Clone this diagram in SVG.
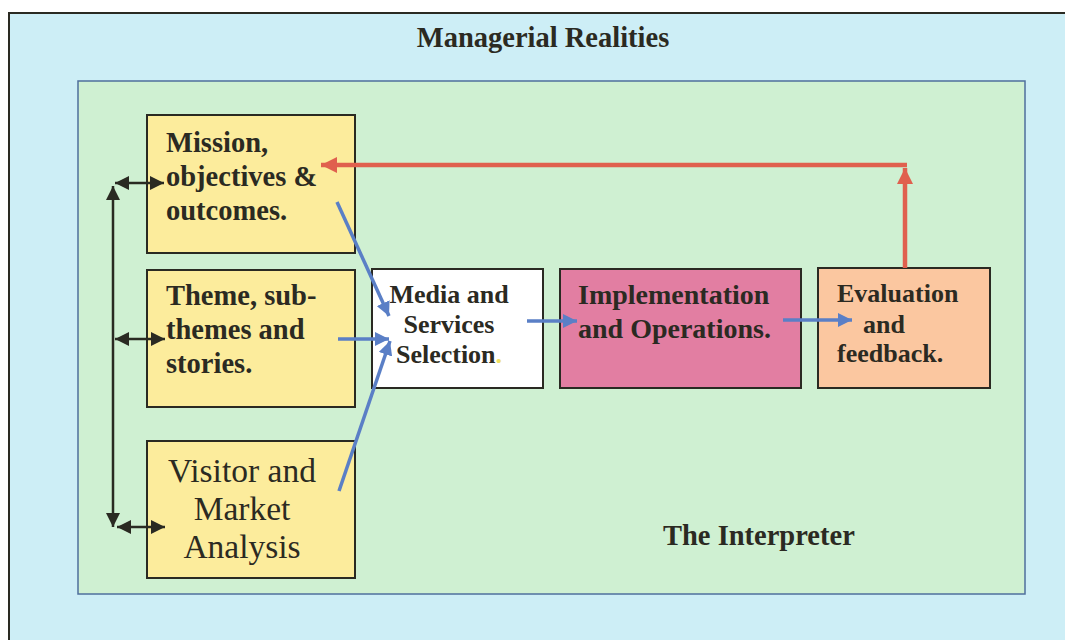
<svg xmlns="http://www.w3.org/2000/svg" width="1065" height="640" viewBox="0 0 1065 640">
  <defs>
    <style>
      .t { font-family: "Liberation Serif", "DejaVu Serif", serif; fill: #2b2a22; }
      .b { font-weight: bold; }
      .box { stroke: #2a2a22; stroke-width: 2; }
      .blue { stroke: #5a7fc6; stroke-width: 3.5; fill: none; }
      .red { stroke: #e0604e; stroke-width: 4.5; fill: none; }
      .blk { stroke: #2a2a22; stroke-width: 2.5; fill: none; }
    </style>
    <marker id="ab" markerUnits="userSpaceOnUse" markerWidth="16" markerHeight="14" refX="14" refY="7" orient="auto">
      <path d="M0,0 L14,7 L0,14 Z" fill="#5a7fc6"/>
    </marker>
    <marker id="ar" markerUnits="userSpaceOnUse" markerWidth="18" markerHeight="16" refX="16" refY="8" orient="auto">
      <path d="M0,0 L16,8 L0,16 Z" fill="#e0604e"/>
    </marker>
    <marker id="ak" markerUnits="userSpaceOnUse" markerWidth="16" markerHeight="14" refX="14" refY="7" orient="auto-start-reverse">
      <path d="M0,0 L14,7 L0,14 Z" fill="#2a2a22"/>
    </marker>
  </defs>

  <rect x="0" y="0" width="1065" height="640" fill="#ffffff"/>
  <g id="managerial-realities">
    <rect x="9" y="13" width="1070" height="640" fill="#cdeef6" stroke="#2a2a22" stroke-width="2"/>
    <text class="t b" x="543" y="47" font-size="28.5" text-anchor="middle">Managerial Realities</text>
  </g>

  <g id="the-interpreter">
    <rect x="78" y="81" width="947" height="513" fill="#cff0d2" stroke="#4f6f9c" stroke-width="1.5"/>
    <text class="t b" x="663" y="545" font-size="28.5">The Interpreter</text>
  </g>

  <g id="mission">
    <rect class="box" x="147" y="115" width="208" height="138" fill="#fcec9c"/>
    <text class="t b" x="166" y="152" font-size="28.5">Mission,</text>
    <text class="t b" x="166" y="186" font-size="28.5">objectives &amp;</text>
    <text class="t b" x="166" y="220" font-size="28.5">outcomes.</text>
  </g>

  <g id="theme">
    <rect class="box" x="147" y="270" width="208" height="137" fill="#fcec9c"/>
    <text class="t b" x="166" y="305" font-size="28.5">Theme, sub-</text>
    <text class="t b" x="166" y="339" font-size="28.5">themes and</text>
    <text class="t b" x="166" y="373" font-size="28.5">stories.</text>
  </g>

  <g id="visitor">
    <rect class="box" x="147" y="441" width="208" height="137" fill="#fcec9c"/>
    <text class="t" x="242" y="482" font-size="33.5" text-anchor="middle">Visitor and</text>
    <text class="t" x="242" y="520" font-size="33.5" text-anchor="middle">Market</text>
    <text class="t" x="242" y="558" font-size="33.5" text-anchor="middle">Analysis</text>
  </g>

  <g id="media">
    <rect class="box" x="372" y="269" width="171" height="119" fill="#ffffff"/>
    <text class="t b" x="449" y="303" font-size="26" text-anchor="middle">Media and</text>
    <text class="t b" x="449" y="333" font-size="26" text-anchor="middle">Services</text>
    <text class="t b" x="449" y="363" font-size="26" text-anchor="middle">Selection<tspan fill="#f0e060">.</tspan></text>
  </g>

  <g id="implementation">
    <rect class="box" x="560" y="269" width="241" height="119" fill="#e27ea2"/>
    <text class="t b" x="578" y="304" font-size="28">Implementation</text>
    <text class="t b" x="578" y="338" font-size="28">and Operations.</text>
  </g>

  <g id="evaluation">
    <rect class="box" x="818" y="268" width="172" height="120" fill="#fbc7a0"/>
    <text class="t b" x="837" y="302" font-size="26">Evaluation</text>
    <text class="t b" x="863" y="333" font-size="26">and</text>
    <text class="t b" x="837" y="362" font-size="26">feedback.</text>
  </g>

  <g id="connectors">
    <line class="blue" x1="337" y1="202" x2="389" y2="316" marker-end="url(#ab)"/>
    <line class="blue" x1="338" y1="339" x2="389" y2="339" marker-end="url(#ab)"/>
    <line class="blue" x1="339" y1="491" x2="390" y2="341" marker-end="url(#ab)"/>
    <line class="blue" x1="527" y1="321" x2="577" y2="321" marker-end="url(#ab)"/>
    <line class="blue" x1="783" y1="320" x2="852" y2="320" marker-end="url(#ab)"/>

    <line class="red" x1="905" y1="268" x2="905" y2="168" marker-end="url(#ar)"/>
    <polyline class="red" points="907,165 905,165 321,165" marker-end="url(#ar)"/>

    <line class="blk" x1="113" y1="186" x2="113" y2="527" marker-start="url(#ak)" marker-end="url(#ak)"/>
    <line class="blk" x1="115" y1="183" x2="164" y2="183" marker-start="url(#ak)" marker-end="url(#ak)"/>
    <line class="blk" x1="115" y1="339" x2="165" y2="339" marker-start="url(#ak)" marker-end="url(#ak)"/>
    <line class="blk" x1="117" y1="527" x2="165" y2="527" marker-start="url(#ak)" marker-end="url(#ak)"/>
  </g>
</svg>
